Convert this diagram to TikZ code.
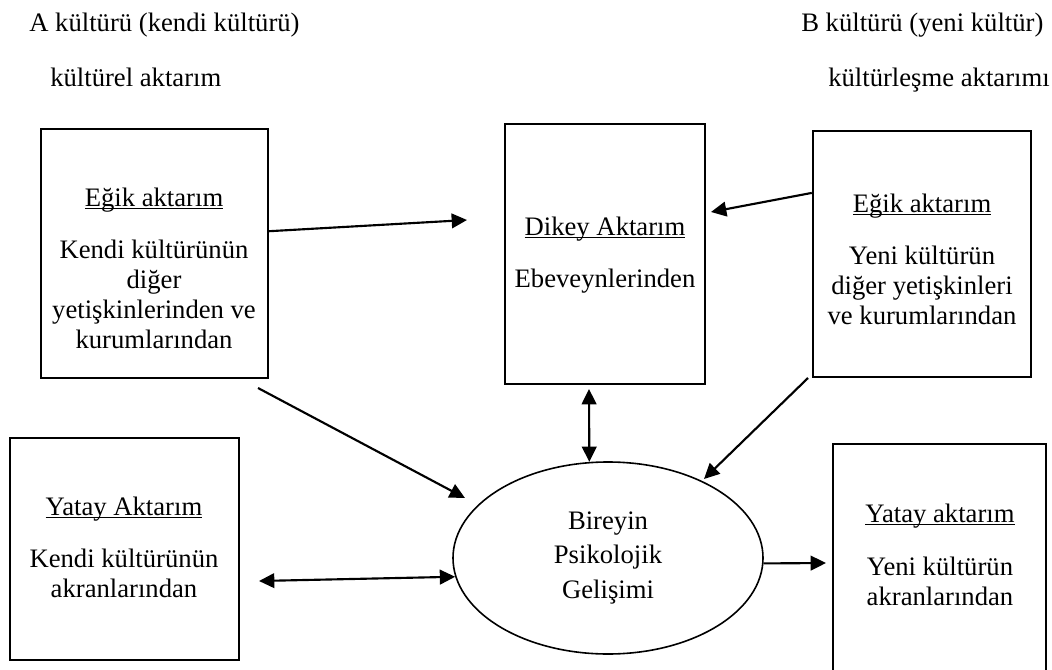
\documentclass[tikz,border=0pt]{standalone}
\usepackage{fontspec}
\setmainfont{Liberation Serif}
\usetikzlibrary{arrows.meta,shapes.geometric,fit}

\newcommand\altciz[1]{\setbox0\hbox{#1}\rlap{\rule[-2.2pt]{\wd0}{0.8pt}}\box0}

\tikzset{
  kutu/.style={draw, line width=1.8pt, inner sep=0pt},
  yazi/.style={align=center, inner sep=0pt, font=\fontsize{20}{22.5}\selectfont},
  ok/.style={line width=1.6pt, -{Triangle[length=11.5pt,width=11pt]}},
  cift/.style={line width=1.6pt, {Triangle[length=11.5pt,width=11pt]}-{Triangle[length=11.5pt,width=11pt]}}
}

\begin{document}
\begin{tikzpicture}[x=0.75pt,y=0.75pt,yscale=-1,xscale=1]
\useasboundingbox (0,0) rectangle (1052,670);
\clip (0,0) rectangle (1052,670);

% Text Node
\node[yazi, anchor=base west] (kulturA) at (29,32) {A kültürü (kendi kültürü)};
% Text Node
\node[yazi, anchor=base west] (aktarimA) at (50,87) {kültürel aktarım};
% Text Node
\node[yazi, anchor=base west] (kulturB) at (801,32) {B kültürü (yeni kültür)};
% Text Node
\node[yazi, anchor=base west] (aktarimB) at (828,87) {kültürleşme aktarımı};

%Shape: Rectangle
\node[kutu, fit={(41,129) (268,378)}] (egikA) {};
\node[yazi] (egikAyazi) at (154,268) {\altciz{Eğik aktarım}\\[16.5pt]Kendi kültürünün\\diğer\\yetişkinlerinden ve\\kurumlarından};
%Shape: Rectangle
\node[kutu, fit={(505,124) (705,384)}] (dikey) {};
\node[yazi] (dikeyyazi) at (605,255) {\altciz{Dikey Aktarım}\\[16.5pt]Ebeveynlerinden};
%Shape: Rectangle
\node[kutu, fit={(813,131) (1031,377)}] (egikB) {};
\node[yazi] (egikByazi) at (922,259) {\altciz{Eğik aktarım}\\[16.5pt]Yeni kültürün\\diğer yetişkinleri\\ve kurumlarından};
%Shape: Rectangle
\node[kutu, fit={(10,438) (239,660)}] (yatayA) {};
\node[yazi] (yatayAyazi) at (124,547) {\altciz{Yatay Aktarım}\\[16.5pt]Kendi kültürünün\\akranlarından};
%Shape: Rectangle
\node[kutu, fit={(833,444) (1046,700)}] (yatayB) {};
\node[yazi] (yatayByazi) at (940,555) {\altciz{Yatay aktarım}\\[17.5pt]Yeni kültürün\\akranlarından};

%Shape: Ellipse
\node[draw, ellipse, line width=1.2pt, minimum width=232.5pt, minimum height=144pt, inner sep=0pt,
  yazi, font=\fontsize{20}{26}\selectfont] (birey) at (608,558) {Bireyin\\Psikolojik\\Gelişimi};

% ok uclari
\coordinate (ucDikeyA) at (467,220);
\coordinate (ucDikeyB) at (711,212);
\coordinate (basA) at (258,388);
\coordinate (ucBireyA) at (465,498);
\coordinate (basB) at (808,378);
\coordinate (ucBireyB) at (704,479);
\coordinate (dikeyAlt) at (589,389);
\coordinate (yatayAuc) at (259,581);
\coordinate (ucYatayB) at (826,563);

%Straight Lines
\draw[ok] (egikA.11) -- (ucDikeyA);
\draw[ok] (egikB.151) -- (ucDikeyB);
\draw[ok] (basA) -- (ucBireyA);
\draw[ok] (basB) -- (ucBireyB);
\draw[cift] (dikeyAlt) -- (birey.101);
\draw[cift] (yatayAuc) -- (birey.187);
\draw[ok] (birey.-2) -- (ucYatayB);

\end{tikzpicture}
\end{document}
